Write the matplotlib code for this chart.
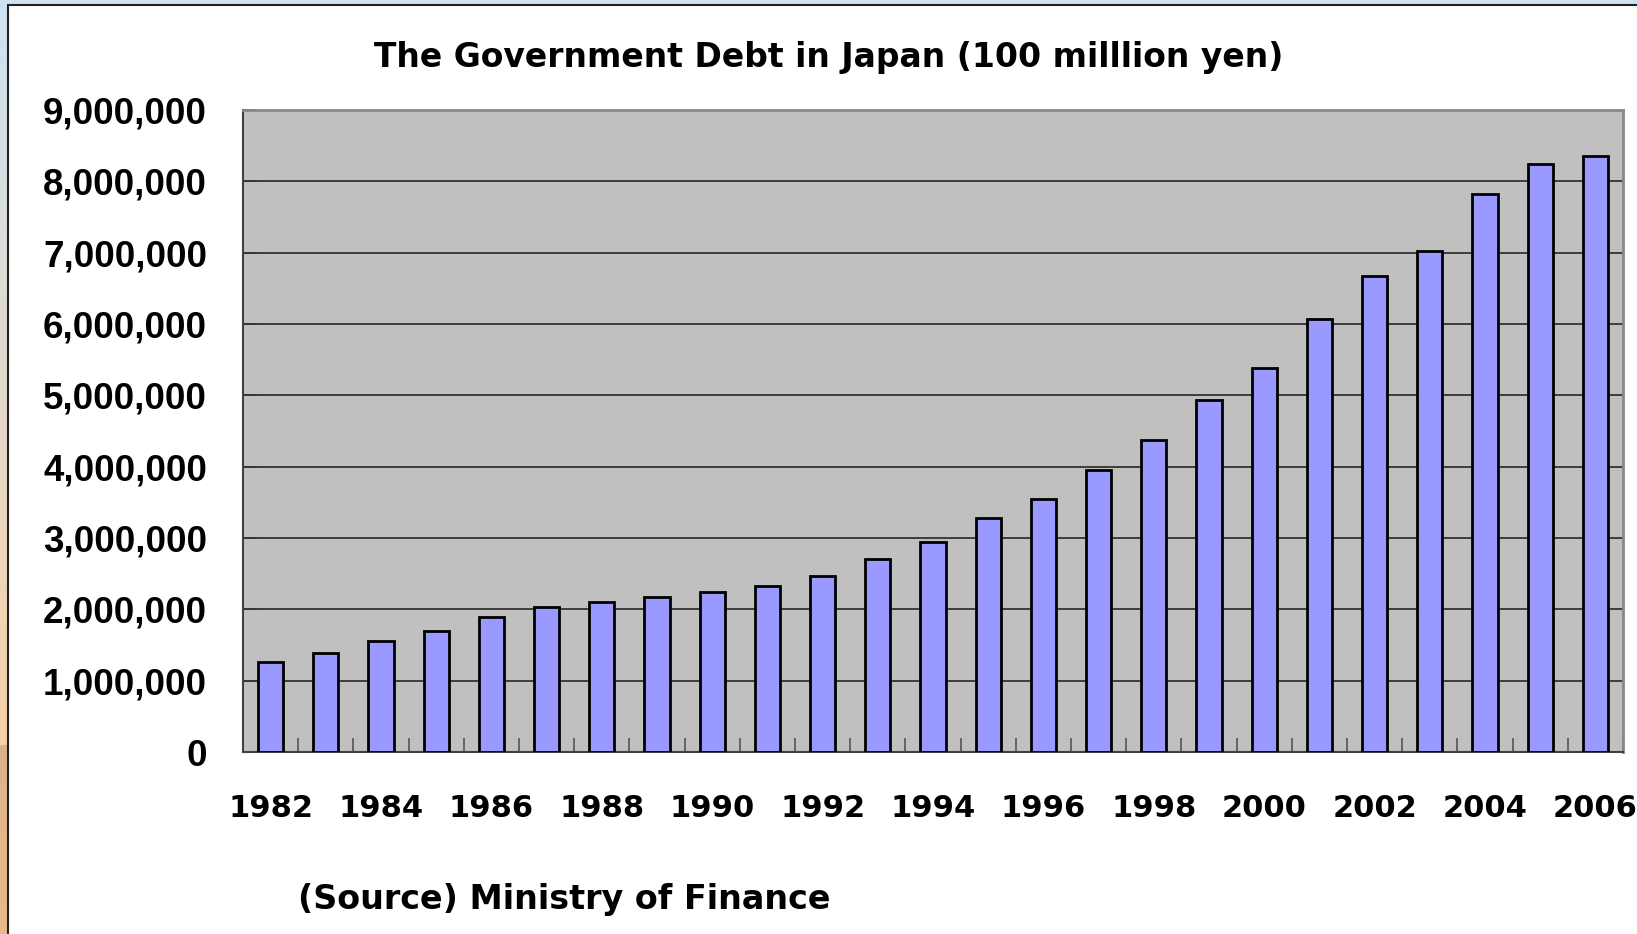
import numpy as np
import matplotlib
matplotlib.use("Agg")
import matplotlib.pyplot as plt
from matplotlib.patches import Rectangle
from matplotlib.ticker import FuncFormatter

# Government debt, 100 million yen
years = list(range(1982, 2007))
debt = [1257000, 1390000, 1556000, 1690000, 1890000, 2030000, 2107000,
        2169000, 2239000, 2332000, 2467000, 2700000, 2940000, 3280000,
        3540000, 3950000, 4380000, 4930000, 5390000, 6070000, 6670000,
        7030000, 7820000, 8250000, 8360000]

title = "The Government Debt in Japan (100 milllion yen)"
source = "(Source) Ministry of Finance"

fig = plt.figure(figsize=(16.37, 9.34), dpi=100)
fig.patch.set_facecolor("white")

# slide background: gradient strip on the left, white panel with dark border
bg = fig.add_axes([0, 0, 1, 1], zorder=-10)
bg.set_xlim(0, 1637)
bg.set_ylim(934, 0)
bg.axis("off")
top_c = np.array([0.81, 0.89, 0.95])
mid_c = np.array([0.97, 0.82, 0.66])
n = 200
grad = np.zeros((n, 1, 3))
for i in range(n):
    t = i / (n - 1)
    grad[i, 0] = top_c * (1 - t) + mid_c * t
bg.imshow(grad, extent=(0, 1637, 745, 0), aspect="auto")
bot = np.zeros((50, 1, 3))
for i in range(50):
    t = i / 49
    bot[i, 0] = np.array([0.86, 0.70, 0.54]) * (1 - t) + np.array([0.91, 0.73, 0.54]) * t
bg.imshow(bot, extent=(0, 1637, 934, 745), aspect="auto")
bg.add_patch(Rectangle((8, 5), 1660, 960, facecolor="white",
                       edgecolor="#222222", linewidth=1.5))

# chart
ax = fig.add_axes([243 / 1637, 1 - 752 / 934, 1380 / 1637, 642 / 934])
ax.set_facecolor("#c0c0c0")
x = np.arange(len(years))
ax.bar(x, debt, width=0.46, color="#9999ff", edgecolor="black",
       linewidth=2, zorder=3)

ax.set_xlim(-0.5, len(years) - 0.5)
ax.set_ylim(0, 9000000)
ax.set_yticks(np.arange(0, 9000001, 1000000))
ax.yaxis.set_major_formatter(FuncFormatter(lambda v, p: f"{int(v):,}"))
ax.grid(axis="y", color="#333333", linewidth=1.3, zorder=1)

ax.set_xticks(np.arange(-0.5, len(years)))
ax.set_xticklabels([])
ax.set_xticks(x[::2], minor=True)
ax.set_xticklabels([str(y) for y in years[::2]], minor=True)
ax.tick_params(axis="x", which="major", direction="in", length=10,
               width=1.2, color="#555555")
ax.tick_params(axis="x", which="minor", length=0, pad=30)
ax.tick_params(axis="y", direction="in", length=10, width=1.2,
               color="#333333", pad=26)

for lab in ax.get_xticklabels(minor=True):
    lab.set_fontfamily("DejaVu Sans")
    lab.set_fontweight("bold")
    lab.set_fontsize(22)
for lab in ax.get_yticklabels():
    lab.set_fontfamily("Liberation Sans")
    lab.set_fontweight("bold")
    lab.set_fontsize(26.5)

for side in ["left", "bottom"]:
    ax.spines[side].set_color("#404040")
    ax.spines[side].set_linewidth(1.5)
for side in ["top", "right"]:
    ax.spines[side].set_color("#888888")
    ax.spines[side].set_linewidth(2)

fig.text(829 / 1637, 1 - 57 / 934, title, ha="center", va="center",
         fontsize=23.8, fontfamily="DejaVu Sans", fontweight="bold")
fig.text(298 / 1637, 1 - 900 / 934, source, ha="left", va="center",
         fontsize=24, fontfamily="DejaVu Sans", fontweight="bold")

fig.savefig("out.png", dpi=100)
